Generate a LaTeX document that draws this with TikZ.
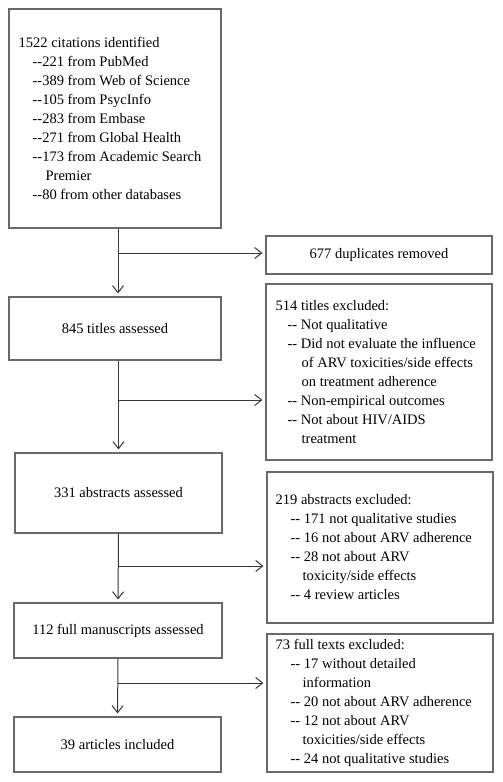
\documentclass[tikz,border=0pt]{standalone}
\usepackage{fontspec}
\setmainfont{Liberation Serif}
\usetikzlibrary{arrows.meta}
\definecolor{linegray}{RGB}{55,55,55}
\definecolor{boxgray}{RGB}{105,105,105}
\begin{document}
\begin{tikzpicture}[x=1pt,y=-1pt,
  box/.style={draw=boxgray,line width=1.1pt,inner sep=0pt},
  txt/.style={anchor=west,align=left,inner sep=0pt,font=\fontsize{14.5}{19}\selectfont},
  ctxt/.style={font=\fontsize{14.5}{19}\selectfont},
  arr/.style={draw=linegray,line width=1pt,-{Straight Barb[length=7pt,width=11pt]},shorten >=3pt}]
\useasboundingbox (0,0) rectangle (503,782);
% Boxes on the left: records kept
\node[box,minimum width=212pt,minimum height=219pt] (cit) at (115,118.5) {};
\node[box,ctxt,minimum width=212pt,minimum height=63pt] (tit) at (115,328.5) {845 titles assessed};
\node[box,ctxt,minimum width=207pt,minimum height=80pt] (abs) at (118.5,493) {331 abstracts assessed};
\node[box,ctxt,minimum width=208pt,minimum height=55pt] (full) at (118,630.5) {112 full manuscripts assessed};
\node[box,ctxt,minimum width=207pt,minimum height=55pt] (inc) at (117.5,744.5) {39 articles included};
% Boxes on the right: records removed
\node[box,ctxt,minimum width=226pt,minimum height=38pt] (dup) at (379,255) {677 duplicates removed};
\node[box,minimum width=226pt,minimum height=176pt] (texc) at (379,372) {};
\node[box,minimum width=226pt,minimum height=151pt] (aexc) at (380,547.5) {};
\node[box,minimum width=226pt,minimum height=138pt] (fexc) at (380,703) {};
% Texts of the list boxes
\node[txt] (cit-txt) at ([xshift=10pt]cit.west) {1522 citations identified\\
\hspace*{14pt}-{}-221 from PubMed\\
\hspace*{14pt}-{}-389 from Web of Science\\
\hspace*{14pt}-{}-105 from PsycInfo\\
\hspace*{14pt}-{}-283 from Embase\\
\hspace*{14pt}-{}-271 from Global Health\\
\hspace*{14pt}-{}-173 from Academic Search\\
\hspace*{27pt}Premier\\
\hspace*{14pt}-{}-80 from other databases};
\node[txt] (texc-txt) at ([xshift=10pt]texc.west) {514 titles excluded:\\
\hspace*{12pt}-{}- Not qualitative\\
\hspace*{12pt}-{}- Did not evaluate the influence\\
\hspace*{26pt}of ARV toxicities/side effects\\
\hspace*{26pt}on treatment adherence\\
\hspace*{12pt}-{}- Non-empirical outcomes\\
\hspace*{12pt}-{}- Not about HIV/AIDS\\
\hspace*{26pt}treatment};
\node[txt] (aexc-txt) at ([xshift=9pt]aexc.west) {219 abstracts excluded:\\
\hspace*{15pt}-{}- 171 not qualitative studies\\
\hspace*{15pt}-{}- 16 not about ARV adherence\\
\hspace*{15pt}-{}- 28 not about ARV\\
\hspace*{27pt}toxicity/side effects\\
\hspace*{15pt}-{}- 4 review articles};
\node[txt] (fexc-txt) at ([xshift=9pt]fexc.west) {73 full texts excluded:\\
\hspace*{15pt}-{}- 17 without detailed\\
\hspace*{27pt}information\\
\hspace*{15pt}-{}- 20 not about ARV adherence\\
\hspace*{15pt}-{}- 12 not about ARV\\
\hspace*{27pt}toxicities/side effects\\
\hspace*{15pt}-{}- 24 not qualitative studies};
% Branch points on the main line
\coordinate (b1) at (118,253);
\coordinate (b2) at (118.5,400);
\coordinate (b3) at (118.5,566);
\coordinate (b4) at (118,683);
% Main line down
\draw[arr] ([xshift=3pt]cit.south) -- ([xshift=3pt]tit.north);
\draw[arr] (tit.south -| abs.north) -- (abs.north);
\draw[arr] (abs.south) -- (full.north);
\draw[arr] (full.south) -- (inc.north);
% Side arrows to the exclusions
\draw[arr] (b1) -- (b1 -| dup.west);
\draw[arr] (b2) -- (b2 -| texc.west);
\draw[arr] (b3) -- (b3 -| aexc.west);
\draw[arr] (b4) -- (b4 -| fexc.west);
\end{tikzpicture}
\end{document}
